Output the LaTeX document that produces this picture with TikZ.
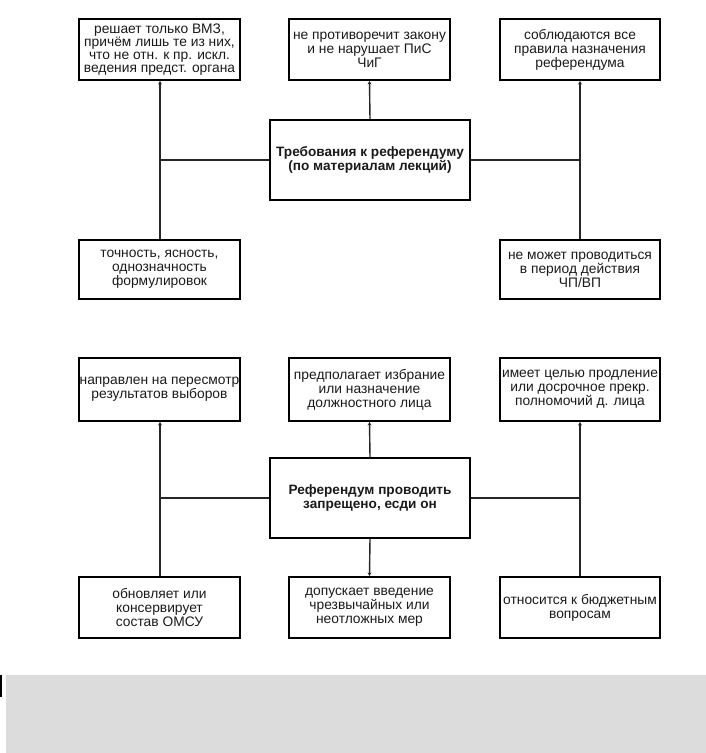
\documentclass[tikz,border=0pt]{standalone}
\usepackage{fontspec}
\setmainfont{Liberation Sans}
\usetikzlibrary{arrows.meta}
\definecolor{linegray}{HTML}{262626}
\definecolor{txt}{HTML}{1A1A1A}
\definecolor{panel}{HTML}{DCDCDC}
\newcommand\ctline[1]{\hbox to 0pt{\hss#1\hss}}
\newcommand\stacklines[2]{\vbox{\baselineskip=#1pt\lineskiplimit=-40pt\lineskip=0pt\relax#2}}
\begin{document}
\begin{tikzpicture}[x=1pt,y=-1pt,
  box/.style={draw=black, line width=2pt, minimum width=161pt, minimum height=61pt,
    inner sep=0pt, text=txt, font=\fontsize{13.8}{14}\selectfont},
  mainbox/.style={box, minimum width=200pt, minimum height=80pt, font=\bfseries\fontsize{13.6}{14}\selectfont},
  conn/.style={draw=linegray, line width=1.4pt},
  arr/.style={-{Stealth[length=3.5pt,width=4pt]}}]
\useasboundingbox (0,0) rectangle (706,753);

% ---------- first diagram ----------
\node[box] (tl1) at (159.5,49.5) {\stacklines{13.1}{\ctline{решает только ВМЗ,}\ctline{причём лишь те из них,}\ctline{что не отн. к пр. искл.}\ctline{ведения предст. органа}}};
\node[box] (tm1) at (369.5,49.5) {\stacklines{14}{\ctline{не противоречит закону}\ctline{и не нарушает ПиС}\ctline{ЧиГ}}};
\node[box, minimum width=160pt] (tr1) at (580,49.5) {\stacklines{14}{\ctline{соблюдаются все}\ctline{правила назначения}\ctline{референдума}}};
\node[mainbox] (c1) at (370,160) {\stacklines{14}{\ctline{Требования к референдуму}\ctline{(по материалам лекций)}}};
\node[box, minimum height=59pt] (bl1) at (159.5,269.5) {\stacklines{14}{\ctline{точность, ясность,}\ctline{однозначность}\ctline{формулировок}}};
\node[box, minimum width=160pt, minimum height=59pt] (br1) at (580,269.5) {\stacklines{14}{\ctline{не может проводиться}\ctline{в период действия}\ctline{ЧП/ВП}}};

\coordinate (j1l) at (160,160);
\coordinate (j1r) at (580,160);
\draw[conn] (c1.west) -- (j1l);
\draw[conn] (c1.east) -- (j1r);
\draw[conn,arr] (j1l) -- (j1l |- tl1.south);
\draw[conn] (j1l) -- (j1l |- bl1.north);
\draw[conn,arr] (j1r) -- (j1r |- tr1.south);
\draw[conn] (j1r) -- (j1r |- br1.north);
\draw[conn,arr] (c1.north) -- (tm1.south);

% ---------- second diagram ----------
\node[box, minimum height=63pt] (tl2) at (159.5,389.5) {\stacklines{14}{\ctline{направлен на пересмотр}\ctline{результатов выборов}}};
\node[box, minimum height=63pt] (tm2) at (369.5,389.5) {\stacklines{14}{\ctline{предполагает избрание}\ctline{или назначение}\ctline{должностного лица}}};
\node[box, minimum width=160pt, minimum height=63pt] (tr2) at (580,389.5) {\stacklines{14}{\ctline{имеет целью продление}\ctline{или досрочное прекр.}\ctline{полномочий д. лица}}};
\node[mainbox] (c2) at (370,498) {\stacklines{14}{\ctline{Референдум проводить}\ctline{запрещено, есди он}}};
\node[box] (bl2) at (159.5,607.5) {\stacklines{14}{\ctline{обновляет или}\ctline{консервирует}\ctline{состав ОМСУ}}};
\node[box] (bm2) at (369.5,607.5) {\stacklines{14}{\ctline{допускает введение}\ctline{чрезвычайных или}\ctline{неотложных мер}}};
\node[box, minimum width=160pt] (br2) at (580,607.5) {\stacklines{14}{\ctline{относится к бюджетным}\ctline{вопросам}}};

\coordinate (j2l) at (160,498);
\coordinate (j2r) at (580,498);
\draw[conn] (c2.west) -- (j2l);
\draw[conn] (c2.east) -- (j2r);
\draw[conn,arr] (j2l) -- (j2l |- tl2.south);
\draw[conn] (j2l) -- (j2l |- bl2.north);
\draw[conn,arr] (j2r) -- (j2r |- tr2.south);
\draw[conn] (j2r) -- (j2r |- br2.north);
\draw[conn,arr] (c2.north) -- (tm2.south);
\draw[conn,arr] (c2.south) -- (bm2.north);

% ---------- bottom panel ----------
\fill[panel] (6,675) rectangle (706,753);
\fill[black] (0,675) rectangle (1.5,697);
\end{tikzpicture}
\end{document}
